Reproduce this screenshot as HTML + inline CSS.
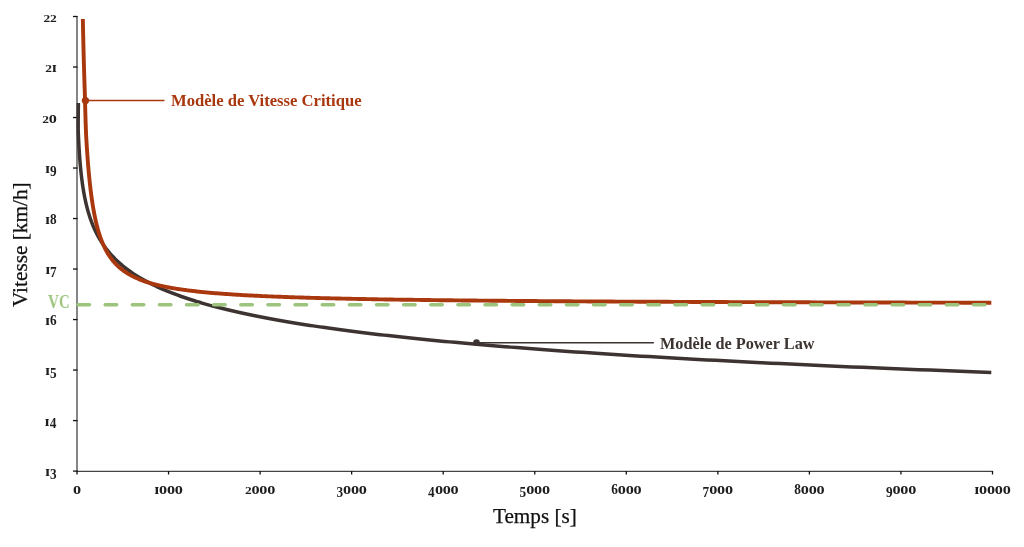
<!DOCTYPE html>
<html><head><meta charset="utf-8"><style>
html,body{margin:0;padding:0;background:#fff;-webkit-font-smoothing:antialiased;}
body{width:1024px;height:547px;position:relative;overflow:hidden;font-family:"Liberation Serif",serif;}
svg{position:absolute;left:0;top:0;will-change:transform;}
.t{position:absolute;white-space:nowrap;line-height:1;will-change:transform;}
</style></head><body>
<svg width="1024" height="547" viewBox="0 0 1024 547">
<line x1="77" y1="16" x2="77" y2="471.5" stroke="#444" stroke-width="1.3"/>
<line x1="76.4" y1="471.4" x2="993" y2="471.4" stroke="#444" stroke-width="1.2"/>
<line x1="73" y1="471.09" x2="77.5" y2="471.09" stroke="#111" stroke-width="1.3"/>
<line x1="73" y1="420.58" x2="77.5" y2="420.58" stroke="#111" stroke-width="1.3"/>
<line x1="73" y1="370.07" x2="77.5" y2="370.07" stroke="#111" stroke-width="1.3"/>
<line x1="73" y1="319.56" x2="77.5" y2="319.56" stroke="#111" stroke-width="1.3"/>
<line x1="73" y1="269.05" x2="77.5" y2="269.05" stroke="#111" stroke-width="1.3"/>
<line x1="73" y1="218.54" x2="77.5" y2="218.54" stroke="#111" stroke-width="1.3"/>
<line x1="73" y1="168.03" x2="77.5" y2="168.03" stroke="#111" stroke-width="1.3"/>
<line x1="73" y1="117.52" x2="77.5" y2="117.52" stroke="#111" stroke-width="1.3"/>
<line x1="73" y1="67.01" x2="77.5" y2="67.01" stroke="#111" stroke-width="1.3"/>
<line x1="73" y1="16.50" x2="77.5" y2="16.50" stroke="#111" stroke-width="1.3"/>
<line x1="77.00" y1="471" x2="77.00" y2="474.5" stroke="#111" stroke-width="1.3"/>
<line x1="168.55" y1="471" x2="168.55" y2="474.5" stroke="#111" stroke-width="1.3"/>
<line x1="260.10" y1="471" x2="260.10" y2="474.5" stroke="#111" stroke-width="1.3"/>
<line x1="351.65" y1="471" x2="351.65" y2="474.5" stroke="#111" stroke-width="1.3"/>
<line x1="443.20" y1="471" x2="443.20" y2="474.5" stroke="#111" stroke-width="1.3"/>
<line x1="534.75" y1="471" x2="534.75" y2="474.5" stroke="#111" stroke-width="1.3"/>
<line x1="626.30" y1="471" x2="626.30" y2="474.5" stroke="#111" stroke-width="1.3"/>
<line x1="717.85" y1="471" x2="717.85" y2="474.5" stroke="#111" stroke-width="1.3"/>
<line x1="809.40" y1="471" x2="809.40" y2="474.5" stroke="#111" stroke-width="1.3"/>
<line x1="900.95" y1="471" x2="900.95" y2="474.5" stroke="#111" stroke-width="1.3"/>
<line x1="992.50" y1="471" x2="992.50" y2="474.5" stroke="#111" stroke-width="1.3"/>
<path d="M78.33,102.96 L78.34,103.58 L78.35,104.21 L78.36,104.83 L78.36,105.46 L78.35,106.08 L78.34,106.70 L78.34,107.33 L78.33,107.95 L78.32,108.57 L78.31,109.19 L78.30,109.81 L78.30,110.43 L78.29,111.06 L78.28,111.68 L78.28,112.30 L78.27,112.91 L78.26,113.53 L78.26,114.15 L78.25,114.77 L78.25,115.39 L78.24,116.01 L78.23,116.62 L78.23,117.24 L78.23,117.86 L78.22,118.47 L78.22,119.09 L78.21,119.70 L78.21,120.32 L78.21,120.93 L78.20,121.55 L78.20,122.16 L78.20,122.77 L78.20,123.39 L78.19,124.00 L78.19,124.61 L78.19,125.22 L78.19,125.84 L78.19,126.45 L78.19,127.06 L78.19,127.67 L78.19,128.28 L78.19,128.89 L78.19,129.50 L78.20,130.11 L78.22,130.72 L78.24,131.32 L78.27,131.93 L78.29,132.54 L78.32,133.15 L78.34,133.75 L78.37,134.36 L78.40,134.97 L78.42,135.57 L78.45,136.18 L78.48,136.78 L78.50,137.39 L78.53,137.99 L78.56,138.59 L78.59,139.20 L78.62,139.80 L78.65,140.40 L78.68,141.00 L78.71,141.61 L78.74,142.21 L78.77,142.81 L78.80,143.41 L78.83,144.01 L78.86,144.61 L78.90,145.21 L78.93,145.81 L78.96,146.41 L79.00,147.01 L79.03,147.61 L79.07,148.20 L79.10,148.80 L79.14,149.40 L79.18,150.00 L79.21,150.59 L79.25,151.19 L79.29,151.78 L79.33,152.38 L79.37,152.97 L79.41,153.57 L79.45,154.16 L79.49,154.76 L79.53,155.35 L79.57,155.94 L79.61,156.54 L79.66,157.13 L79.70,157.72 L79.75,158.31 L79.79,158.90 L79.84,159.50 L79.88,160.09 L79.93,160.68 L79.98,161.27 L80.03,161.86 L80.07,162.44 L80.12,163.03 L80.17,163.62 L80.23,164.21 L80.28,164.80 L80.33,165.39 L80.38,165.97 L80.44,166.56 L80.49,167.15 L80.55,167.73 L80.60,168.32 L80.66,168.90 L80.72,169.49 L80.78,170.07 L80.84,170.66 L80.90,171.24 L80.96,171.82 L81.02,172.41 L81.08,172.99 L81.15,173.57 L81.21,174.15 L81.28,174.74 L81.34,175.32 L81.41,175.90 L81.48,176.48 L81.55,177.06 L81.62,177.64 L81.69,178.22 L81.76,178.80 L81.83,179.38 L81.91,179.96 L81.98,180.53 L82.06,181.11 L82.14,181.69 L82.21,182.27 L82.29,182.84 L82.37,183.42 L82.46,184.00 L82.54,184.57 L82.62,185.15 L82.71,185.72 L82.79,186.30 L82.88,186.87 L82.97,187.44 L83.06,188.02 L83.15,188.59 L83.24,189.16 L83.34,189.74 L83.43,190.31 L83.53,190.88 L83.62,191.45 L83.72,192.02 L83.82,192.59 L83.93,193.16 L84.03,193.73 L84.13,194.30 L84.24,194.87 L84.35,195.44 L84.46,196.01 L84.57,196.58 L84.68,197.15 L84.79,197.72 L84.91,198.28 L85.02,198.85 L85.14,199.42 L85.26,199.98 L85.38,200.55 L85.51,201.11 L85.63,201.68 L85.76,202.24 L85.89,202.81 L86.02,203.37 L86.15,203.94 L86.28,204.50 L86.42,205.06 L86.56,205.63 L86.70,206.19 L86.84,206.75 L86.98,207.31 L87.13,207.88 L87.28,208.44 L87.43,209.00 L87.58,209.56 L87.73,210.12 L87.89,210.68 L88.05,211.24 L88.21,211.80 L88.37,212.35 L88.53,212.91 L88.70,213.47 L88.87,214.03 L89.04,214.59 L89.22,215.14 L89.39,215.70 L89.57,216.26 L89.75,216.81 L89.94,217.37 L90.12,217.92 L90.31,218.48 L90.51,219.03 L90.70,219.59 L90.90,220.14 L91.10,220.70 L91.30,221.25 L91.51,221.80 L91.71,222.35 L91.92,222.91 L92.14,223.46 L92.36,224.01 L92.58,224.56 L92.80,225.11 L93.03,225.66 L93.26,226.21 L93.49,226.76 L93.72,227.31 L93.96,227.86 L94.21,228.41 L94.45,228.96 L94.70,229.51 L94.95,230.06 L95.21,230.60 L95.47,231.15 L95.73,231.70 L96.00,232.24 L96.27,232.79 L96.55,233.34 L96.82,233.88 L97.11,234.43 L97.39,234.97 L97.68,235.52 L97.98,236.06 L98.28,236.61 L98.58,237.15 L98.89,237.69 L99.20,238.24 L99.51,238.78 L99.83,239.32 L100.15,239.86 L100.48,240.40 L100.82,240.95 L101.15,241.49 L101.50,242.03 L101.84,242.57 L102.20,243.11 L102.55,243.65 L102.91,244.19 L103.28,244.72 L103.65,245.26 L104.03,245.80 L104.41,246.34 L104.80,246.88 L105.19,247.41 L105.59,247.95 L106.00,248.49 L106.41,249.03 L106.82,249.56 L107.24,250.10 L107.67,250.63 L108.10,251.17 L108.54,251.70 L108.99,252.24 L109.44,252.77 L109.89,253.30 L110.36,253.84 L110.83,254.37 L111.31,254.90 L111.79,255.44 L112.28,255.97 L112.78,256.50 L113.28,257.03 L113.79,257.56 L114.31,258.09 L114.83,258.62 L115.37,259.15 L115.91,259.68 L116.45,260.21 L117.01,260.74 L117.57,261.27 L118.14,261.80 L118.72,262.33 L119.31,262.86 L119.90,263.38 L120.50,263.91 L121.11,264.44 L121.73,264.96 L122.36,265.49 L123.00,266.02 L123.64,266.54 L124.30,267.07 L124.96,267.59 L125.64,268.12 L126.32,268.64 L127.01,269.17 L127.71,269.69 L128.42,270.21 L129.14,270.74 L129.88,271.26 L130.62,271.78 L131.37,272.30 L132.13,272.83 L132.90,273.35 L133.69,273.87 L134.48,274.39 L135.29,274.91 L136.10,275.43 L136.93,275.95 L137.77,276.47 L138.62,276.99 L139.48,277.51 L140.36,278.03 L141.25,278.55 L142.14,279.06 L143.06,279.58 L143.98,280.10 L144.92,280.62 L145.87,281.13 L146.83,281.65 L147.81,282.16 L148.80,282.68 L149.80,283.20 L150.82,283.71 L151.85,284.23 L152.90,284.74 L153.96,285.26 L155.04,285.77 L156.13,286.28 L157.23,286.80 L158.35,287.31 L159.49,287.82 L160.64,288.33 L161.81,288.85 L163.00,289.36 L164.20,289.87 L165.42,290.38 L166.65,290.89 L167.90,291.40 L169.17,291.91 L170.46,292.42 L171.76,292.93 L173.09,293.44 L174.43,293.95 L175.79,294.46 L177.17,294.97 L178.57,295.47 L179.98,295.98 L181.42,296.49 L182.88,297.00 L184.36,297.50 L185.85,298.01 L187.37,298.52 L188.91,299.02 L190.47,299.53 L192.06,300.03 L193.66,300.54 L195.29,301.04 L196.94,301.55 L198.61,302.05 L200.31,302.55 L202.03,303.06 L203.77,303.56 L205.54,304.06 L207.33,304.57 L209.15,305.07 L210.99,305.57 L212.86,306.07 L214.75,306.57 L216.67,307.07 L218.62,307.57 L220.59,308.07 L222.59,308.57 L224.62,309.07 L226.68,309.57 L228.77,310.07 L230.88,310.57 L233.02,311.07 L235.20,311.57 L237.40,312.07 L239.64,312.56 L241.90,313.06 L244.20,313.56 L246.53,314.05 L248.89,314.55 L251.28,315.05 L253.71,315.54 L256.17,316.04 L258.67,316.53 L261.20,317.03 L263.76,317.52 L266.36,318.02 L269.00,318.51 L271.68,319.01 L274.39,319.50 L277.13,319.99 L279.92,320.48 L282.75,320.98 L285.61,321.47 L288.51,321.96 L291.46,322.45 L294.44,322.94 L297.47,323.43 L300.54,323.93 L303.65,324.42 L306.81,324.91 L310.01,325.40 L313.25,325.88 L316.54,326.37 L319.87,326.86 L323.25,327.35 L326.68,327.84 L330.15,328.33 L333.68,328.82 L337.25,329.30 L340.87,329.79 L344.54,330.28 L348.26,330.76 L352.04,331.25 L355.86,331.73 L359.74,332.22 L363.68,332.71 L367.67,333.19 L371.71,333.68 L375.81,334.16 L379.97,334.64 L384.18,335.13 L388.46,335.61 L392.79,336.09 L397.18,336.58 L401.63,337.06 L406.15,337.54 L410.73,338.02 L415.37,338.51 L420.08,338.99 L424.85,339.47 L429.69,339.95 L434.59,340.43 L439.57,340.91 L444.61,341.39 L449.72,341.87 L454.90,342.35 L460.16,342.83 L465.49,343.31 L470.89,343.79 L476.37,344.26 L481.92,344.74 L487.55,345.22 L493.26,345.70 L499.05,346.17 L504.92,346.65 L510.87,347.13 L516.90,347.60 L523.02,348.08 L529.22,348.56 L535.51,349.03 L541.88,349.51 L548.35,349.98 L554.90,350.45 L561.54,350.93 L568.28,351.40 L575.11,351.88 L582.03,352.35 L589.06,352.82 L596.17,353.30 L603.39,353.77 L610.71,354.24 L618.13,354.71 L625.65,355.18 L633.28,355.65 L641.01,356.13 L648.85,356.60 L656.80,357.07 L664.86,357.54 L673.03,358.01 L681.32,358.48 L689.72,358.95 L698.23,359.41 L706.87,359.88 L715.62,360.35 L724.50,360.82 L733.50,361.29 L742.62,361.76 L751.88,362.22 L761.26,362.69 L770.77,363.16 L780.41,363.62 L790.18,364.09 L800.10,364.55 L810.15,365.02 L820.34,365.49 L830.67,365.95 L841.14,366.42 L851.76,366.88 L862.53,367.34 L873.44,367.81 L884.51,368.27 L895.74,368.73 L907.11,369.20 L918.65,369.66 L930.35,370.12 L942.20,370.58 L954.23,371.05 L966.42,371.51 L978.78,371.97 L991.31,372.43" fill="none" stroke="#3d3432" stroke-width="3.5" stroke-linejoin="round"/>
<path d="M82.85,19.00 L82.91,21.93 L82.97,24.83 L83.03,27.70 L83.09,30.54 L83.15,33.35 L83.21,36.13 L83.27,38.88 L83.33,41.60 L83.40,44.30 L83.46,46.97 L83.53,49.61 L83.59,52.22 L83.66,54.81 L83.73,57.37 L83.79,59.90 L83.86,62.41 L83.93,64.89 L84.00,67.35 L84.07,69.78 L84.14,72.19 L84.21,74.57 L84.29,76.93 L84.36,79.26 L84.43,81.57 L84.51,83.85 L84.58,86.12 L84.66,88.36 L84.74,90.57 L84.81,92.77 L84.89,94.94 L84.94,97.08 L84.99,99.21 L85.04,101.32 L85.09,103.40 L85.14,105.46 L85.19,107.50 L85.25,109.52 L85.30,111.52 L85.36,113.50 L85.42,115.46 L85.48,117.40 L85.54,119.31 L85.60,121.21 L85.66,123.09 L85.72,124.95 L85.79,126.79 L85.85,128.61 L85.92,130.42 L85.99,132.20 L86.06,133.97 L86.14,135.72 L86.24,137.45 L86.34,139.16 L86.44,140.85 L86.54,142.53 L86.64,144.19 L86.75,145.84 L86.85,147.46 L86.96,149.07 L87.06,150.66 L87.17,152.24 L87.28,153.80 L87.39,155.35 L87.50,156.88 L87.61,158.39 L87.73,159.89 L87.84,161.37 L87.96,162.84 L88.07,164.29 L88.19,165.73 L88.31,167.15 L88.43,168.56 L88.55,169.95 L88.67,171.33 L88.80,172.69 L88.92,174.04 L89.05,175.38 L89.18,176.71 L89.31,178.02 L89.44,179.31 L89.57,180.59 L89.70,181.86 L89.84,183.12 L89.97,184.37 L90.11,185.60 L90.25,186.82 L90.39,188.02 L90.53,189.22 L90.67,190.40 L90.82,191.57 L90.96,192.72 L91.11,193.87 L91.26,195.00 L91.41,196.12 L91.56,197.24 L91.72,198.33 L91.87,199.42 L92.03,200.50 L92.19,201.56 L92.35,202.62 L92.51,203.66 L92.67,204.70 L92.84,205.72 L93.00,206.73 L93.17,207.73 L93.34,208.73 L93.51,209.71 L93.69,210.68 L93.86,211.64 L94.04,212.59 L94.22,213.53 L94.40,214.46 L94.58,215.39 L94.76,216.30 L94.95,217.20 L95.14,218.10 L95.33,218.98 L95.52,219.86 L95.71,220.73 L95.91,221.58 L96.11,222.43 L96.31,223.27 L96.51,224.11 L96.71,224.93 L96.92,225.75 L97.13,226.55 L97.34,227.35 L97.55,228.14 L97.76,228.92 L97.98,229.70 L98.20,230.46 L98.42,231.22 L98.64,231.97 L98.87,232.72 L99.10,233.45 L99.33,234.18 L99.56,234.90 L99.79,235.61 L100.03,236.32 L100.27,237.02 L100.51,237.71 L100.76,238.39 L101.01,239.07 L101.26,239.74 L101.51,240.40 L101.76,241.06 L102.02,241.71 L102.28,242.35 L102.54,242.99 L102.81,243.62 L103.08,244.24 L103.35,244.86 L103.62,245.47 L103.90,246.07 L104.18,246.67 L104.46,247.26 L104.74,247.85 L105.03,248.43 L105.32,249.00 L105.62,249.57 L105.91,250.13 L106.21,250.69 L106.52,251.24 L106.82,251.79 L107.13,252.32 L107.44,252.86 L107.76,253.39 L108.08,253.91 L108.40,254.43 L108.72,254.94 L109.05,255.45 L109.38,255.95 L109.72,256.45 L110.06,256.94 L110.40,257.43 L110.74,257.91 L111.09,258.38 L111.45,258.86 L111.80,259.32 L112.16,259.79 L112.53,260.24 L112.89,260.70 L113.26,261.14 L113.64,261.59 L114.02,262.03 L114.40,262.46 L114.79,262.89 L115.18,263.32 L115.57,263.74 L115.97,264.16 L116.37,264.57 L116.78,264.98 L117.19,265.38 L117.60,265.78 L118.02,266.18 L118.44,266.57 L118.87,266.96 L119.30,267.34 L119.74,267.72 L120.18,268.10 L120.62,268.47 L121.07,268.84 L121.53,269.20 L121.99,269.56 L122.45,269.92 L122.92,270.27 L123.39,270.62 L123.87,270.97 L124.35,271.31 L124.84,271.65 L125.33,271.99 L125.83,272.32 L126.33,272.65 L126.84,272.98 L127.35,273.30 L127.87,273.62 L128.40,273.93 L128.93,274.25 L129.46,274.55 L130.00,274.86 L130.54,275.16 L131.10,275.46 L131.65,275.76 L132.21,276.05 L132.78,276.34 L133.36,276.63 L133.93,276.92 L134.52,277.20 L135.11,277.48 L135.71,277.75 L136.31,278.03 L136.92,278.30 L137.54,278.56 L138.16,278.83 L138.79,279.09 L139.42,279.35 L140.06,279.61 L140.71,279.86 L141.37,280.11 L142.03,280.36 L142.69,280.61 L143.37,280.85 L144.05,281.09 L144.74,281.33 L145.43,281.57 L146.14,281.80 L146.85,282.04 L147.56,282.27 L148.29,282.49 L149.02,282.72 L149.76,282.94 L150.51,283.16 L151.26,283.38 L152.02,283.59 L152.79,283.81 L153.57,284.02 L154.35,284.23 L155.15,284.43 L155.95,284.64 L156.76,284.84 L157.58,285.04 L158.40,285.24 L159.24,285.44 L160.08,285.63 L160.93,285.82 L161.79,286.01 L162.66,286.20 L163.54,286.39 L164.43,286.57 L165.32,286.76 L166.23,286.94 L167.14,287.12 L168.07,287.29 L169.00,287.47 L169.94,287.64 L170.89,287.81 L171.86,287.98 L172.83,288.15 L173.81,288.32 L174.80,288.48 L175.80,288.65 L176.82,288.81 L177.84,288.97 L178.87,289.13 L179.91,289.28 L180.97,289.44 L182.03,289.59 L183.11,289.74 L184.19,289.89 L185.29,290.04 L186.40,290.19 L187.52,290.33 L188.65,290.48 L189.79,290.62 L190.95,290.76 L192.12,290.90 L193.29,291.04 L194.48,291.18 L195.69,291.31 L196.90,291.45 L198.13,291.58 L199.37,291.71 L200.62,291.84 L201.88,291.97 L203.16,292.10 L204.45,292.22 L205.76,292.35 L207.07,292.47 L208.40,292.59 L209.75,292.72 L211.11,292.83 L212.48,292.95 L213.86,293.07 L215.26,293.19 L216.68,293.30 L218.11,293.42 L219.55,293.53 L221.01,293.64 L222.48,293.75 L223.97,293.86 L225.47,293.97 L226.99,294.07 L228.52,294.18 L230.07,294.28 L231.64,294.39 L233.22,294.49 L234.82,294.59 L236.43,294.69 L238.06,294.79 L239.71,294.89 L241.37,294.99 L243.05,295.08 L244.75,295.18 L246.46,295.27 L248.19,295.37 L249.94,295.46 L251.71,295.55 L253.50,295.64 L255.30,295.73 L257.12,295.82 L258.96,295.91 L260.82,296.00 L262.70,296.08 L264.60,296.17 L266.51,296.25 L268.45,296.34 L270.41,296.42 L272.38,296.50 L274.38,296.58 L276.40,296.66 L278.43,296.74 L280.49,296.82 L282.57,296.90 L284.67,296.97 L286.79,297.05 L288.93,297.12 L291.10,297.20 L293.29,297.27 L295.50,297.35 L297.73,297.42 L299.98,297.49 L302.26,297.56 L304.56,297.63 L306.88,297.70 L309.23,297.77 L311.60,297.84 L314.00,297.90 L316.42,297.97 L318.87,298.04 L321.34,298.10 L323.83,298.17 L326.35,298.23 L328.90,298.29 L331.47,298.35 L334.07,298.42 L336.69,298.48 L339.34,298.54 L342.02,298.60 L344.73,298.66 L347.46,298.72 L350.22,298.78 L353.01,298.83 L355.83,298.89 L358.68,298.95 L361.55,299.00 L364.46,299.06 L367.39,299.11 L370.36,299.17 L373.35,299.22 L376.38,299.27 L379.43,299.33 L382.52,299.38 L385.64,299.43 L388.79,299.48 L391.97,299.53 L395.19,299.58 L398.44,299.63 L401.72,299.68 L405.03,299.73 L408.38,299.77 L411.76,299.82 L415.18,299.87 L418.63,299.91 L422.12,299.96 L425.64,300.01 L429.20,300.05 L432.79,300.10 L436.42,300.14 L440.09,300.18 L443.80,300.23 L447.54,300.27 L451.32,300.31 L455.14,300.35 L459.00,300.39 L462.90,300.44 L466.83,300.48 L470.81,300.52 L474.83,300.56 L478.89,300.59 L482.99,300.63 L487.13,300.67 L491.32,300.71 L495.55,300.75 L499.82,300.79 L504.13,300.82 L508.49,300.86 L512.89,300.90 L517.34,300.93 L521.83,300.97 L526.37,301.00 L530.95,301.04 L535.58,301.07 L540.26,301.10 L544.99,301.14 L549.76,301.17 L554.59,301.20 L559.46,301.24 L564.38,301.27 L569.35,301.30 L574.37,301.33 L579.45,301.36 L584.57,301.40 L589.75,301.43 L594.98,301.46 L600.27,301.49 L605.60,301.52 L611.00,301.55 L616.44,301.58 L621.95,301.60 L627.50,301.63 L633.12,301.66 L638.79,301.69 L644.52,301.72 L650.31,301.74 L656.16,301.77 L662.07,301.80 L668.03,301.82 L674.06,301.85 L680.15,301.88 L686.30,301.90 L692.52,301.93 L698.80,301.95 L705.14,301.98 L711.54,302.00 L718.02,302.03 L724.55,302.05 L731.16,302.08 L737.83,302.10 L744.57,302.12 L751.38,302.15 L758.26,302.17 L765.20,302.19 L772.22,302.21 L779.31,302.24 L786.47,302.26 L793.71,302.28 L801.02,302.30 L808.40,302.32 L815.86,302.35 L823.40,302.37 L831.01,302.39 L838.70,302.41 L846.46,302.43 L854.31,302.45 L862.24,302.47 L870.25,302.49 L878.33,302.51 L886.51,302.53 L894.76,302.55 L903.10,302.56 L911.52,302.58 L920.03,302.60 L928.63,302.62 L937.31,302.64 L946.09,302.66 L954.95,302.67 L963.90,302.69 L972.94,302.71 L982.08,302.73 L991.31,302.74" fill="none" stroke="#a9380e" stroke-width="3.9" stroke-linejoin="round"/>
<line x1="78" y1="304.70" x2="992" y2="304.70" stroke="#9cc47c" stroke-width="3.5" stroke-dasharray="11.5 15.635" stroke-linecap="round"/>
<line x1="85" y1="100.55" x2="163.9" y2="100.55" stroke="#a9380e" stroke-width="1.6" stroke-linecap="round"/>
<circle cx="85.45" cy="100.55" r="3.65" fill="#a9380e"/>
<line x1="476" y1="342.85" x2="653.3" y2="342.85" stroke="#3d3432" stroke-width="1.5" stroke-linecap="round"/>
<circle cx="476.5" cy="342.6" r="3.3" fill="#3d3432"/>
<g font-family="Liberation Serif" font-weight="bold" font-size="16.2" fill="#1e1e1e">
<text transform="matrix(1.0,0,0,0.95,45.29,476.09)">ɪ</text><text transform="matrix(0.82,0,0,0.9,50.01,478.60)">3</text>
<text transform="matrix(1.0,0,0,0.95,44.76,425.58)">ɪ</text><text transform="matrix(0.82,0,0,0.9,49.80,428.09)">4</text>
<text transform="matrix(1.0,0,0,0.95,45.35,375.07)">ɪ</text><text transform="matrix(0.82,0,0,0.9,50.04,377.58)">5</text>
<text transform="matrix(1.0,0,0,0.95,45.18,324.56)">ɪ</text><text transform="matrix(0.82,0,0,0.9,49.95,324.56)">6</text>
<text transform="matrix(1.0,0,0,0.95,45.42,274.05)">ɪ</text><text transform="matrix(0.82,0,0,0.9,49.88,276.56)">7</text>
<text transform="matrix(1.0,0,0,0.95,45.22,223.54)">ɪ</text><text transform="matrix(0.82,0,0,0.9,50.00,223.54)">8</text>
<text transform="matrix(1.0,0,0,0.95,45.18,173.03)">ɪ</text><text transform="matrix(0.82,0,0,0.9,50.04,175.54)">9</text>
<text transform="matrix(0.83,0,0,0.7,42.19,122.52)">2</text><text transform="matrix(1.0,0,0,1.0,48.72,122.52)">o</text>
<text transform="matrix(0.83,0,0,0.7,45.27,72.01)">2</text><text transform="matrix(1.0,0,0,0.95,51.98,72.01)">ɪ</text>
<text transform="matrix(0.83,0,0,0.7,43.47,21.50)">2</text><text transform="matrix(0.83,0,0,0.7,50.05,21.50)">2</text>
<text transform="matrix(1.0,0,0,1.0,72.95,494.10)">o</text>
<text transform="matrix(1.0,0,0,0.95,154.42,494.10)">ɪ</text><text transform="matrix(1.0,0,0,1.0,159.03,494.10)">o</text><text transform="matrix(1.0,0,0,1.0,166.89,494.10)">o</text><text transform="matrix(1.0,0,0,1.0,174.76,494.10)">o</text>
<text transform="matrix(0.83,0,0,0.7,244.95,494.10)">2</text><text transform="matrix(1.0,0,0,1.0,251.47,494.10)">o</text><text transform="matrix(1.0,0,0,1.0,259.34,494.10)">o</text><text transform="matrix(1.0,0,0,1.0,267.21,494.10)">o</text>
<text transform="matrix(0.82,0,0,0.9,336.51,496.61)">3</text><text transform="matrix(1.0,0,0,1.0,343.08,494.10)">o</text><text transform="matrix(1.0,0,0,1.0,350.94,494.10)">o</text><text transform="matrix(1.0,0,0,1.0,358.81,494.10)">o</text>
<text transform="matrix(0.82,0,0,0.9,428.11,496.61)">4</text><text transform="matrix(1.0,0,0,1.0,434.89,494.10)">o</text><text transform="matrix(1.0,0,0,1.0,442.76,494.10)">o</text><text transform="matrix(1.0,0,0,1.0,450.62,494.10)">o</text>
<text transform="matrix(0.82,0,0,0.9,519.61,496.61)">5</text><text transform="matrix(1.0,0,0,1.0,526.15,494.10)">o</text><text transform="matrix(1.0,0,0,1.0,534.01,494.10)">o</text><text transform="matrix(1.0,0,0,1.0,541.88,494.10)">o</text>
<text transform="matrix(0.82,0,0,0.9,611.15,494.10)">6</text><text transform="matrix(1.0,0,0,1.0,617.78,494.10)">o</text><text transform="matrix(1.0,0,0,1.0,625.65,494.10)">o</text><text transform="matrix(1.0,0,0,1.0,633.52,494.10)">o</text>
<text transform="matrix(0.82,0,0,0.9,702.51,496.61)">7</text><text transform="matrix(1.0,0,0,1.0,709.21,494.10)">o</text><text transform="matrix(1.0,0,0,1.0,717.08,494.10)">o</text><text transform="matrix(1.0,0,0,1.0,724.95,494.10)">o</text>
<text transform="matrix(0.82,0,0,0.9,794.28,494.10)">8</text><text transform="matrix(1.0,0,0,1.0,800.86,494.10)">o</text><text transform="matrix(1.0,0,0,1.0,808.73,494.10)">o</text><text transform="matrix(1.0,0,0,1.0,816.60,494.10)">o</text>
<text transform="matrix(0.82,0,0,0.9,885.89,496.61)">9</text><text transform="matrix(1.0,0,0,1.0,892.43,494.10)">o</text><text transform="matrix(1.0,0,0,1.0,900.30,494.10)">o</text><text transform="matrix(1.0,0,0,1.0,908.17,494.10)">o</text>
<text transform="matrix(1.0,0,0,0.95,974.44,494.10)">ɪ</text><text transform="matrix(1.0,0,0,1.0,979.05,494.10)">o</text><text transform="matrix(1.0,0,0,1.0,986.91,494.10)">o</text><text transform="matrix(1.0,0,0,1.0,994.78,494.10)">o</text><text transform="matrix(1.0,0,0,1.0,1002.64,494.10)">o</text>
</g>
</svg>
<div class="t" style="left:171px;top:92.8px;font-size:16.62px;font-weight:bold;color:#a9380e;">Modèle de Vitesse Critique</div>
<div class="t" style="left:659.8px;top:335.6px;font-size:16.25px;font-weight:bold;color:#3d3432;">Modèle de Power Law</div>
<div class="t" style="left:48.2px;top:294.2px;font-size:17.9px;font-weight:bold;color:#9cc47c;transform-origin:0 0;transform:scaleX(0.842);">VC</div>
<div class="t" style="left:493px;top:505.6px;font-size:21.2px;color:#111;-webkit-text-stroke:0.25px #111;">Temps [s]</div>
<div class="t" style="left:9.7px;top:306.8px;font-size:21.3px;color:#111;-webkit-text-stroke:0.25px #111;transform-origin:0 0;transform:rotate(-90deg);">Vitesse [km/h]</div>
</body></html>
